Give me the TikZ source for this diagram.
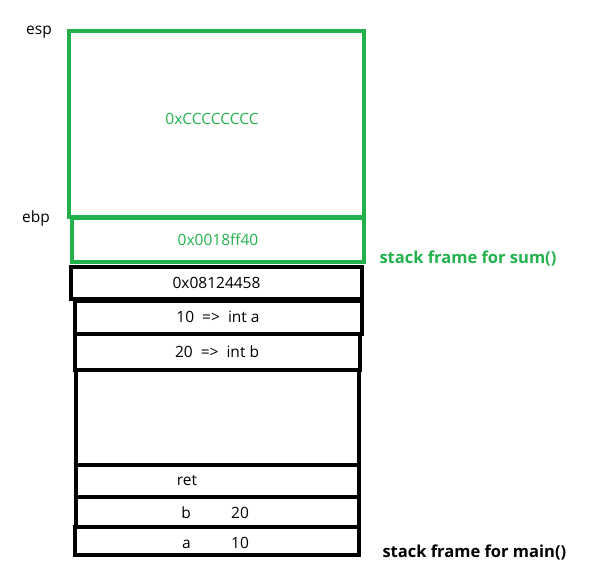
\documentclass[tikz,border=0pt]{standalone}
\usepackage{fontspec}
\setmainfont{Open Sans}
\definecolor{framegreen}{RGB}{34,177,76}

\begin{document}
\begin{tikzpicture}[x=1pt,y=-1pt,
    cell/.style={draw,line width=4pt,inner sep=0pt,outer sep=0pt,
      text height=11pt,text depth=0pt,font=\fontsize{15.5}{18}\selectfont},
    green cell/.style={cell,draw=framegreen,text=framegreen},
    reg/.style={text height=11pt,text depth=0pt,font=\fontsize{15.5}{18}\selectfont},
    caption/.style={anchor=west,text height=11pt,text depth=0pt,
      font=\fontsize{16.5}{19}\selectfont\bfseries}]
  \useasboundingbox (0,0) rectangle (600,588);
  % frame of sum()
  \node[green cell,minimum width=295pt,minimum height=186pt] (locals) at (216.5,124) {};
  \node[text=framegreen,reg] (cc) at (212,119) {0xCCCCCCCC};
  \node[green cell,minimum width=292pt,minimum height=44pt] (oldebp) at (218,240) {0x0018ff40};
  % frame of main()
  \node[cell,minimum width=291pt,minimum height=31pt] (retaddr) at (216.5,283) {0x08124458};
  \node[cell,minimum width=287pt,minimum height=33pt] (arga) at (218,317.5) {10\ \ =>\ \ int a};
  \node[cell,minimum width=285pt,minimum height=36pt] (argb) at (217,352) {20\ \ =>\ \ int b};
  \node[cell,minimum width=283pt,minimum height=95pt] (gap) at (217.5,417.5) {};
  \node[cell,minimum width=283pt,minimum height=32pt] (ret) at (217.5,481) {};
  \node[cell,minimum width=283pt,minimum height=30pt] (varb) at (217.5,512) {};
  \node[cell,minimum width=284pt,minimum height=28pt] (vara) at (217,541) {};
  \node[reg] (rettext) at (187,480) {ret};
  \node[reg] (bname) at (186,513) {b};
  \node[reg] (bval) at (240,513) {20};
  \node[reg] (aname) at (186.5,543) {a};
  \node[reg] (aval) at (240,543) {10};
  % registers and captions
  \node[reg] (esp) at (39,29) {esp};
  \node[reg] (ebp) at (36,217) {ebp};
  \node[caption,text=framegreen] (sumcap) at (376,258) {stack frame for sum()};
  \node[caption] (maincap) at (379,552) {stack frame for main()};
\end{tikzpicture}
\end{document}
